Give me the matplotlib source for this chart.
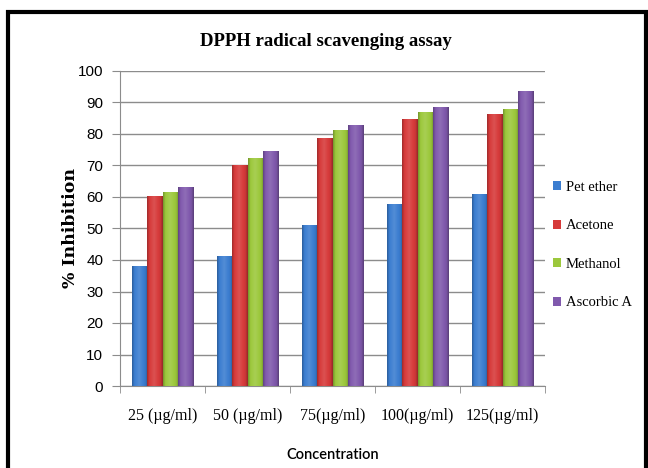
import matplotlib
matplotlib.use("Agg")
import matplotlib.pyplot as plt
import numpy as np
from matplotlib.patches import Rectangle
from matplotlib.colors import to_rgb

categories = ["25 (µg/ml)", "50 (µg/ml)", "75(µg/ml)", "100(µg/ml)", "125(µg/ml)"]
series_names = ["Pet ether", "Acetone", "Methanol", "Ascorbic A"]
pet_ether = [38, 41, 51, 57.7, 60.9]
acetone = [60.3, 70, 78.5, 84.7, 86.3]
methanol = [61.3, 72.3, 81.2, 86.8, 87.9]
ascorbic = [62.9, 74.3, 82.7, 88.3, 93.5]
colors = ["#3b7dd0", "#d63a3a", "#9cc83c", "#8059ad"]

fig = plt.figure(figsize=(6.48, 4.68), dpi=100)
ax = fig.add_axes([120/648, 1-386/468, 425/648, 315/468])

x = np.arange(len(categories))
w = 0.182
data = [pet_ether, acetone, methanol, ascorbic]


def shade(c, f):
    r = np.array(to_rgb(c))
    if f >= 0:
        return r + (1 - r) * f
    return r * (1 + f)


prof = np.linspace(0, 1, 40)
for i, (vals, c, n) in enumerate(zip(data, colors, series_names)):
    bars = ax.bar(x + (i - 1.5) * w, vals, w, color=c, label=n, zorder=3, linewidth=0)
    # horizontal gradient overlay on each bar
    fac = np.interp(prof, [0, 0.15, 0.45, 0.85, 1], [-0.25, 0.0, 0.12, -0.05, -0.3])
    grad = np.array([shade(c, f) for f in fac])[None, :, :]
    for b in bars:
        bx, by = b.get_x(), b.get_y()
        bw, bh = b.get_width(), b.get_height()
        ax.imshow(grad, extent=[bx, bx + bw, by, by + bh], aspect="auto",
                  zorder=3.5, interpolation="bilinear")

ax.set_xlim(-0.5, len(categories) - 0.5)
ax.set_ylim(0, 100)
ax.set_yticks(range(0, 101, 10))
ax.yaxis.grid(True, color="#8c8c8c", linewidth=1.0, zorder=0)
ax.set_xticks(x)
ax.set_xticklabels(categories, fontsize=11.5, family="Liberation Serif")
ax.set_xticks(np.arange(-0.5, len(categories)), minor=True)
ax.tick_params(axis="x", which="major", length=0, pad=16)
ax.tick_params(axis="x", which="minor", length=5, color="#8c8c8c")
ax.tick_params(axis="y", length=6, color="#8c8c8c", labelsize=11, pad=6)
for lab in ax.get_yticklabels():
    lab.set_family("Liberation Sans")
for s in ["top", "right"]:
    ax.spines[s].set_visible(False)
for s in ["left", "bottom"]:
    ax.spines[s].set_color("#8c8c8c")

ax.set_ylabel("% Inhibition", fontsize=12.5, fontweight="bold", family="DejaVu Serif", labelpad=-1)
ax.set_xlabel("Concentration", fontsize=10.5, family="Lato", fontweight="semibold", labelpad=17)
fig.text(326/648, 1 - 42/468, "DPPH radical scavenging assay",
         ha="center", va="center", fontsize=13.5, fontweight="bold", family="Liberation Serif")

leg = ax.legend(loc="upper left", bbox_to_anchor=(1.005, 0.67), frameon=False,
                prop={"family": "Liberation Serif", "size": 10.5}, handlelength=0.55, handleheight=0.6,
                handletextpad=0.35, labelspacing=1.75, borderaxespad=0.0)

fig.patches.append(Rectangle((8/648, -0.01), (646-8)/648, 1-12/468 + 0.01, transform=fig.transFigure,
                             fill=False, edgecolor="black", linewidth=3))

fig.savefig("out.png", dpi=100)
